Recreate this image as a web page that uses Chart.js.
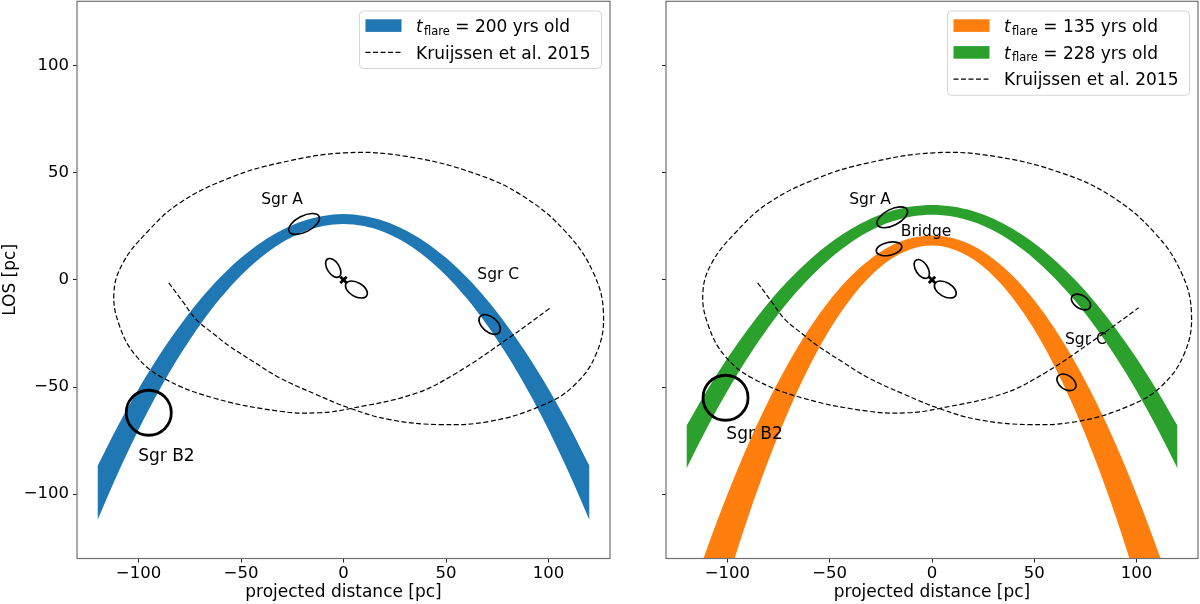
<!DOCTYPE html>
<html>
<head>
<meta charset="utf-8">
<script src="https://cdn.jsdelivr.net/npm/chart.js@4.4.0/dist/chart.umd.min.js"></script>
<style>
  html, body { margin: 0; padding: 0; background: #fff; overflow: hidden; }
  #wrap { position: relative; width: 1200px; height: 604px; overflow: hidden; }
  .panel { position: absolute; top: 0; height: 604px; }
  #leftBox { left: 0; width: 620px; }
  #rightBox { left: 620px; width: 580px; }
</style>
</head>
<body>
<div id="wrap">
  <div class="panel" id="leftBox"><canvas id="leftChart"></canvas></div>
  <div class="panel" id="rightBox"><canvas id="rightChart"></canvas></div>
</div>
<script>
// Light echo bands (upper / lower edge), sampled along projected distance
const bandX = [-120, -110, -100, -90, -80, -70, -60, -50, -40, -30, -20, -10, 0, 10, 20, 30, 40, 50, 60, 70, 80, 90, 100, 110, 120];
const blueUpper = [-86.8, -68.0, -50.9, -35.4, -21.6, -9.3, 1.3, 10.3, 17.6, 23.3, 27.4, 29.8, 30.7, 29.8, 27.4, 23.3, 17.6, 10.3, 1.3, -9.3, -21.6, -35.4, -50.9, -68.0, -86.8];
const blueLower = [-112.1, -90.1, -69.9, -51.7, -35.4, -21.0, -8.5, 2.1, 10.7, 17.4, 22.2, 25.1, 26.1, 25.1, 22.2, 17.4, 10.7, 2.1, -8.5, -21.0, -35.4, -51.7, -69.9, -90.1, -112.1];
const orangeUpper = [-153.2, -125.4, -100.1, -77.1, -56.6, -38.5, -22.8, -9.5, 1.4, 9.8, 15.9, 19.5, 20.7, 19.5, 15.9, 9.8, 1.4, -9.5, -22.8, -38.5, -56.6, -77.1, -100.1, -125.4, -153.2];
const orangeLower = [-209.8, -173.7, -140.8, -111.0, -84.4, -60.9, -40.5, -23.2, -9.1, 1.8, 9.7, 14.4, 16.0, 14.4, 9.7, 1.8, -9.1, -23.2, -40.5, -60.9, -84.4, -111.0, -140.8, -173.7, -209.8];
const greenUpper = [-68.1, -51.6, -36.6, -23.0, -10.8, -0.1, 9.2, 17.1, 23.5, 28.5, 32.1, 34.2, 35.0, 34.2, 32.1, 28.5, 23.5, 17.1, 9.2, -0.1, -10.8, -23.0, -36.6, -51.6, -68.1];
const greenLower = [-88.0, -69.1, -51.8, -36.2, -22.2, -9.9, 0.8, 9.8, 17.2, 23.0, 27.1, 29.6, 30.4, 29.6, 27.1, 23.0, 17.2, 9.8, 0.8, -9.9, -22.2, -36.2, -51.8, -69.1, -88.0];

// Kruijssen et al. 2015 orbit, in drawing order
const orbitX = [-85.2, -78.3, -71.8, -63.6, -55.5, -43.2, -31.1, -14.0, 3.5, 22.6, 47.0, 71.4, 95.8, 112.1, 123.5, 126.8, 121.9, 108.9, 87.7, 63.3, 30.8, 1.0, -31.1, -55.5, -79.9, -96.2, -107.6, -112.0, -109.2, -101.1, -88.1, -63.7, -31.1, -12.0, 3.5, 35.0, 55.2, 79.6, 101.0];
const orbitY = [-1.4, -10.3, -18.5, -25.0, -31.0, -38.6, -45.7, -53.2, -60.0, -65.2, -67.5, -66.0, -59.0, -49.6, -34.0, -15.4, 3.3, 21.9, 39.0, 49.9, 57.6, 59.3, 54.6, 47.6, 35.9, 21.9, 7.9, -6.1, -21.6, -35.6, -45.7, -55.0, -61.3, -62.0, -60.0, -53.0, -43.4, -27.8, -13.0];

const xTicks = [-100, -50, 0, 50, 100];
const yTicks = [-100, -50, 0, 50, 100];

// Molecular clouds (centre, full width / height in pc, tilt in degrees)
const leftSources = [
  { name: 'Sgr A', x: -19.2, y: 26.1, w: 16.3, h: 7.5, angle: 27 },
  { name: 'core N', x: -5.0, y: 5.6, w: 10.3, h: 5.6, angle: -57 },
  { name: 'core S', x: 6.3, y: -4.5, w: 11.7, h: 6.5, angle: -30 },
  { name: 'Sgr C', x: 71.3, y: -20.8, w: 12.2, h: 7.0, angle: -40 },
  { name: 'Sgr B2', x: -95.0, y: -62.0, w: 22.0, h: 21.0, angle: 0 }
];
const rightSources = [
  { name: 'Sgr A', x: -19.4, y: 29.2, w: 16.3, h: 7.5, angle: 27 },
  { name: 'Bridge', x: -21.0, y: 14.5, w: 12.7, h: 6.1, angle: 12 },
  { name: 'core N', x: -5.0, y: 5.1, w: 10.3, h: 5.6, angle: -57 },
  { name: 'core S', x: 6.5, y: -4.5, w: 11.7, h: 6.5, angle: -30 },
  { name: 'Sgr C', x: 72.8, y: -10.3, w: 10.3, h: 6.1, angle: -32 },
  { name: 'Sgr C2', x: 65.7, y: -47.8, w: 10.3, h: 6.5, angle: -35 },
  { name: 'Sgr B2', x: -100.9, y: -55.0, w: 22.0, h: 21.0, angle: 0 }
];

const leftNotes = [
  { text: 'Sgr A', x: -30.0, y: 37.5 },
  { text: 'Sgr C', x: 75.5, y: 2.5 },
  { text: 'Sgr B2', x: -86.4, y: -82.3 }
];
const rightNotes = [
  { text: 'Sgr A', x: -30.3, y: 37.1 },
  { text: 'Bridge', x: -2.9, y: 22.2 },
  { text: 'Sgr C', x: 75.2, y: -27.8 },
  { text: 'Sgr B2', x: -86.7, y: -72.2 }
];

const sgrAStar = [{ x: 0, y: 0 }];

const BLUE = '#1f77b4', ORANGE = '#ff7f0e', GREEN = '#2ca02c';
const FONT = 'DejaVu Sans';
Chart.defaults.font.family = FONT;

const leftLegend = [{ color: BLUE, age: '200' }];
const rightLegend = [{ color: ORANGE, age: '135' }, { color: GREEN, age: '228' }];

function pts(ys) {
  return bandX.map((x, i) => ({ x: x, y: ys[i] }));
}

function bandPair(upper, lower, color) {
  return [
    { data: pts(upper), fill: '+1', backgroundColor: color, borderColor: 'rgba(0,0,0,0)', borderWidth: 1,
      pointRadius: 0, cubicInterpolationMode: 'monotone', order: 5 },
    { data: pts(lower), fill: false, borderColor: 'rgba(0,0,0,0)', borderWidth: 1,
      pointRadius: 0, cubicInterpolationMode: 'monotone', order: 5 }
  ];
}

function orbitSet() {
  return {
    data: orbitX.map((x, i) => ({ x: x, y: orbitY[i] })),
    borderColor: '#000', borderWidth: 1.2, borderDash: [5, 2.5], fill: false,
    pointRadius: 0, tension: 0.4, capBezierPoints: false, order: 1
  };
}

function starSet() {
  return {
    data: sgrAStar, showLine: false, pointStyle: 'crossRot', pointRadius: 4.5,
    borderColor: '#000', borderWidth: 2.8, order: 0
  };
}

function minus(v) {
  return v < 0 ? '\u2212' + Math.abs(v) : String(v);
}

function drawLegend(ctx, area, bands) {
  const rows = bands.length + 1;
  const step = 26.8;
  const w = 242, h = 3.9 + step * rows;
  const bx = area.right - 8.5 - w, by = area.top + 9.7;
  ctx.save();
  ctx.beginPath();
  ctx.roundRect(bx, by, w, h, 4);
  ctx.fillStyle = 'rgba(255,255,255,0.8)';
  ctx.fill();
  ctx.strokeStyle = 'rgba(204,204,204,0.8)';
  ctx.lineWidth = 1;
  ctx.stroke();
  const tx = bx + 56.5;
  bands.forEach((b, i) => {
    const cy = by + 14.6 + i * step;
    ctx.fillStyle = b.color;
    ctx.fillRect(bx + 6, cy - 6.3, 36, 12.6);
    ctx.fillStyle = '#000';
    ctx.textBaseline = 'alphabetic';
    ctx.textAlign = 'left';
    const base = cy + 6.1;
    ctx.font = 'italic 17px "' + FONT + '"';
    ctx.fillText('t', tx, base);
    ctx.font = '11.5px "' + FONT + '"';
    ctx.fillText('flare', tx + 8, base + 2.8);
    const fw = ctx.measureText('flare').width;
    ctx.font = '17px "' + FONT + '"';
    ctx.fillText(' = ' + b.age + ' yrs old', tx + 8 + fw, base);
  });
  const cy = by + 14.6 + bands.length * step;
  ctx.beginPath();
  ctx.setLineDash([5, 2.5]);
  ctx.strokeStyle = '#000';
  ctx.lineWidth = 1.2;
  ctx.moveTo(bx + 6, cy);
  ctx.lineTo(bx + 42, cy);
  ctx.stroke();
  ctx.setLineDash([]);
  ctx.fillStyle = '#000';
  ctx.font = '17px "' + FONT + '"';
  ctx.fillText('Kruijssen et al. 2015', tx, cy + 6.1);
  ctx.restore();
}

function overlay(sources, notes, bands) {
  return {
    id: 'overlay',
    afterDatasetsDraw(chart) {
      const { ctx, chartArea: a, scales: { x, y } } = chart;
      ctx.save();
      ctx.beginPath();
      ctx.rect(a.left, a.top, a.right - a.left, a.bottom - a.top);
      ctx.clip();
      sources.forEach(s => {
        const cx = x.getPixelForValue(s.x), cy = y.getPixelForValue(s.y);
        const rx = Math.abs(x.getPixelForValue(s.x + s.w / 2) - cx);
        const ry = Math.abs(y.getPixelForValue(s.y + s.h / 2) - cy);
        ctx.beginPath();
        ctx.ellipse(cx, cy, rx, ry, -s.angle * Math.PI / 180, 0, 2 * Math.PI);
        ctx.lineWidth = s.name === 'Sgr B2' ? 2.8 : 1.6;
        ctx.strokeStyle = '#000';
        ctx.stroke();
      });
      ctx.fillStyle = '#000';
      ctx.textAlign = 'center';
      ctx.textBaseline = 'middle';
      notes.forEach(n => {
        ctx.font = (n.text === 'Sgr B2' ? 17 : 15.5) + 'px "' + FONT + '"';
        ctx.fillText(n.text, x.getPixelForValue(n.x), y.getPixelForValue(n.y));
      });
      ctx.restore();
    },
    afterDraw(chart) {
      const { ctx, chartArea: a } = chart;
      ctx.save();
      ctx.strokeStyle = '#707070';
      ctx.lineWidth = 1.2;
      ctx.strokeRect(a.left, a.top, a.right - a.left, a.bottom - a.top);
      ctx.restore();
      drawLegend(ctx, a, bands);
    }
  };
}

function axis(ticksList, title, size, showLabels, pad) {
  return {
    type: 'linear', min: -130, max: 130,
    afterBuildTicks: s => { s.ticks = ticksList.map(v => ({ value: v })); },
    grid: { display: true, drawOnChartArea: false, drawTicks: true, tickLength: 4, color: '#222', lineWidth: 1 },
    border: { display: false },
    ticks: { display: showLabels, color: '#000', font: { family: FONT, size: 16.5 }, padding: pad,
             maxRotation: 0, autoSkip: false, callback: v => minus(v) },
    title: { display: !!title, text: title || '', color: '#000', font: { family: FONT, size: 17 },
             padding: { top: 0, bottom: 1 } },
    afterFit: s => {
      size(s);
      s.paddingTop = 0; s.paddingBottom = 0; s.paddingLeft = 0; s.paddingRight = 0;
    }
  };
}

function makeChart(id, datasets, yWidth, showY, sources, notes, bands) {
  return new Chart(document.getElementById(id), {
    type: 'line',
    data: { datasets: datasets },
    options: {
      responsive: true,
      maintainAspectRatio: false,
      animation: false,
      events: [],
      layout: { padding: { top: 1.3, right: 0, left: 0, bottom: 0 } },
      plugins: { legend: { display: false }, tooltip: { enabled: false } },
      scales: {
        x: axis(xTicks, 'projected distance [pc]', s => { s.height = 45.5; }, true, 1),
        y: axis(yTicks, showY ? 'LOS [pc]' : '', s => { s.width = yWidth; }, showY, 4)
      }
    },
    plugins: [overlay(sources, notes, bands)]
  });
}

// move each canvas so that its plot frame sits where the reference has it
function pinFrame(chart, box, target) {
  let L = parseFloat(box.style.left), T = 0, W = box.clientWidth, H = 604;
  for (let k = 0; k < 3; k++) {
    const a = chart.chartArea;
    const eTop = T + a.top - target.top;
    const eRight = L + a.right - target.right;
    T -= eTop; H += eTop;
    W -= eRight;
    box.style.top = T + 'px';
    box.style.height = H + 'px';
    box.style.width = W + 'px';
    chart.resize();
  }
}

const leftBox = document.getElementById('leftBox');
const rightBox = document.getElementById('rightBox');
leftBox.style.left = '0px';
rightBox.style.left = '620px';

const leftChart = makeChart('leftChart',
  [starSet(), orbitSet()].concat(bandPair(blueUpper, blueLower, BLUE)),
  77, true, leftSources, leftNotes, leftLegend);

const rightChart = makeChart('rightChart',
  [starSet(), orbitSet()].concat(bandPair(orangeUpper, orangeLower, ORANGE), bandPair(greenUpper, greenLower, GREEN)),
  46, false, rightSources, rightNotes, rightLegend);

pinFrame(leftChart, leftBox, { top: 1.3, right: 610 });
pinFrame(rightChart, rightBox, { top: 1.3, right: 1198 });
</script>
</body>
</html>
